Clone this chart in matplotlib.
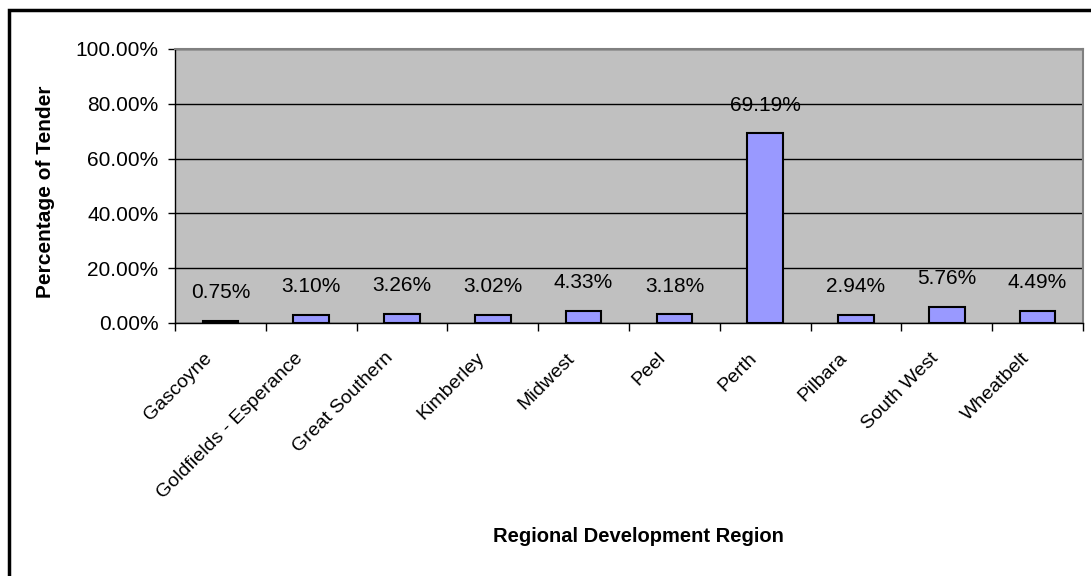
import matplotlib
matplotlib.use("Agg")
import matplotlib.pyplot as plt
from matplotlib.patches import Rectangle
from matplotlib.ticker import FuncFormatter, FixedLocator

regions = ["Gascoyne", "Goldfields - Esperance", "Great Southern", "Kimberley",
           "Midwest", "Peel", "Perth", "Pilbara", "South West", "Wheatbelt"]
share = [0.75, 3.10, 3.26, 3.02, 4.33, 3.18, 69.19, 2.94, 5.76, 4.49]
y_ticks = [0, 20, 40, 60, 80, 100]

plt.rcParams['font.family'] = ['Liberation Sans', 'DejaVu Sans']

W, H = 1091, 576
fig = plt.figure(figsize=(W / 100, H / 100), dpi=100)
fig.patch.set_facecolor("white")

# outer chart frame, running off the right and bottom edges
fig.add_artist(Rectangle((9 / W, -0.05), 1.1, 1 - 10 / H + 0.05,
                         transform=fig.transFigure, fill=False,
                         edgecolor="black", linewidth=2.5))

# plot area in pixels
left, right, top, bottom = 175, 1083, 49, 323
ax = fig.add_axes([left / W, 1 - bottom / H, (right - left) / W, (bottom - top) / H])
ax.set_facecolor("#C0C0C0")

x = list(range(len(regions)))
ax.bar(x, share, width=0.39, color="#9999FF", edgecolor="black", linewidth=1.5, zorder=3)

for xi, v in zip(x, share):
    ax.annotate(f"{v:.2f}%", (xi, v), xytext=(0, 13.5), textcoords="offset points",
                ha="center", va="bottom", fontsize=15, zorder=4)

ax.set_xlim(-0.5, len(regions) - 0.5)
ax.set_ylim(0, 100)
ax.set_yticks(y_ticks)
ax.yaxis.set_major_formatter(FuncFormatter(lambda v, p: f"{v:.2f}%"))
ax.grid(axis="y", color="black", linewidth=1, zorder=1)

# tick marks sit between categories; names are drawn slanted under each bar
ax.xaxis.set_major_locator(FixedLocator([i - 0.5 for i in range(len(regions) + 1)]))
ax.set_xticklabels([])
for xi, name in zip(x, regions):
    ax.annotate(name, (xi, 0), xycoords=("data", "axes fraction"),
                xytext=(-8, -23.5), textcoords="offset points",
                rotation=45, rotation_mode="anchor", ha="right", va="center",
                fontsize=14, annotation_clip=False)
ax.tick_params(axis="x", which="major", length=6, width=1, direction="out")
ax.tick_params(axis="y", length=5, width=1, direction="out", labelsize=15, pad=7)

for side in ("top", "right"):
    ax.spines[side].set_color("#808080")
    ax.spines[side].set_linewidth(1.5)
for side in ("left", "bottom"):
    ax.spines[side].set_color("black")
    ax.spines[side].set_linewidth(1)

fig.text(46 / W, 1 - 192 / H, "Percentage of Tender", rotation=90, ha="center",
         va="center", fontsize=15, fontweight="bold")
fig.text(638 / W, 1 - 536 / H, "Regional Development Region", ha="center",
         va="center", fontsize=14.5, fontweight="bold")

fig.savefig("out.png", dpi=100)
